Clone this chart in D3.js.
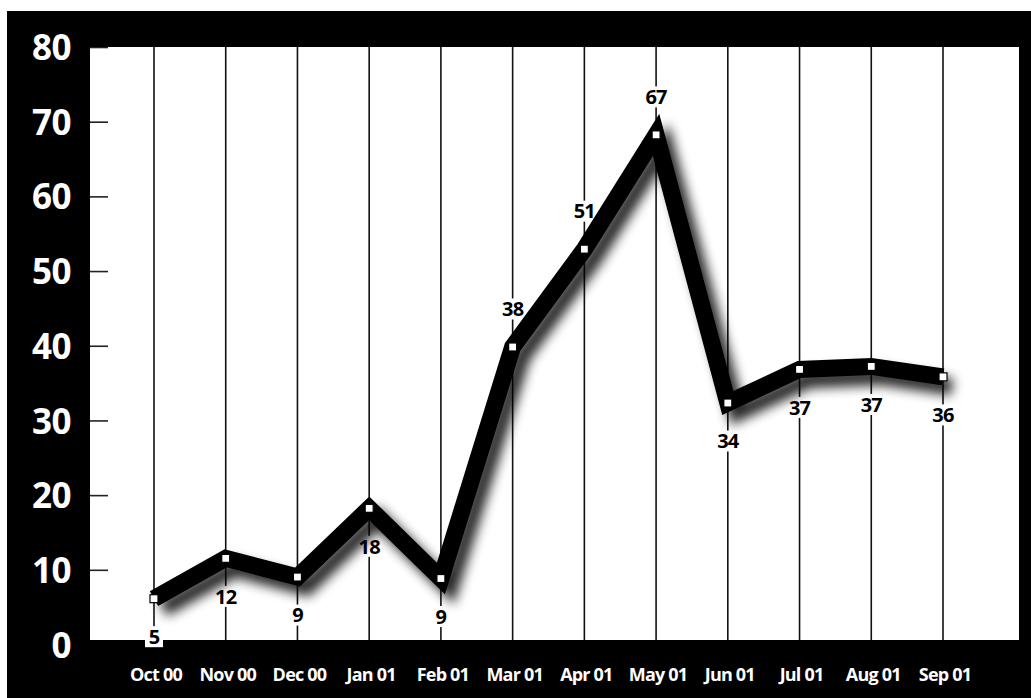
<!DOCTYPE html>
<html>
<head>
<meta charset="utf-8">
<script src="https://cdn.jsdelivr.net/npm/d3@7"></script>
<style>
  html, body { margin: 0; padding: 0; background: #fff; }
  svg { display: block; }
  text { font-family: "Open Sans", "DejaVu Sans", sans-serif; font-weight: 700; }
</style>
</head>
<body>
<svg id="chart" width="1031" height="698"></svg>
<script>
// ---- data ----
const categories = ["Oct 00","Nov 00","Dec 00","Jan 01","Feb 01","Mar 01","Apr 01","May 01","Jun 01","Jul 01","Aug 01","Sep 01"];
const values = [6.2, 11.6, 9.1, 18.3, 8.9, 39.9, 53.0, 68.3, 32.4, 36.9, 37.3, 35.9];
const labels = [5, 12, 9, 18, 9, 38, 51, 67, 34, 37, 37, 36];
const labelSide = ["below","below","below","below","below","above","above","above","below","below","below","below"];
const yTicks = [0, 10, 20, 30, 40, 50, 60, 70, 80];

// ---- layout ----
const svg = d3.select("#chart");
const frame = {x: 7, y: 11, w: 1024, h: 687};
const plot = {left: 90, right: 1019, top: 47, bottom: 640};

const x = d3.scalePoint().domain(categories).range([154, 943]);
const y = d3.scaleLinear().domain([0, 80]).range([645, 47.5]);

// shadow filter
const defs = svg.append("defs");
const f = defs.append("filter").attr("id", "shadow")
  .attr("filterUnits", "userSpaceOnUse")
  .attr("x", 0).attr("y", 0).attr("width", 1031).attr("height", 698);
f.append("feGaussianBlur").attr("in", "SourceAlpha").attr("stdDeviation", 6).attr("result", "b");
f.append("feOffset").attr("in", "b").attr("dx", 9).attr("dy", 10).attr("result", "o");
f.append("feComponentTransfer").attr("in", "o").attr("result", "s")
  .append("feFuncA").attr("type", "linear").attr("slope", 0.85);
const m = f.append("feMerge");
m.append("feMergeNode").attr("in", "s");
m.append("feMergeNode").attr("in", "SourceGraphic");

// black frame
svg.append("rect").attr("x", frame.x).attr("y", frame.y).attr("width", frame.w).attr("height", frame.h).attr("fill", "#000");
// white plot area
svg.append("rect").attr("x", plot.left).attr("y", plot.top)
  .attr("width", plot.right - plot.left).attr("height", plot.bottom - plot.top).attr("fill", "#fff");

// clip for plot content
defs.append("clipPath").attr("id", "plotclip").append("rect")
  .attr("x", plot.left).attr("y", plot.top).attr("width", plot.right - plot.left).attr("height", plot.bottom - plot.top);

const inner = svg.append("g").attr("clip-path", "url(#plotclip)");

// vertical gridlines
inner.selectAll("line.grid").data(categories).join("line")
  .attr("class", "grid")
  .attr("x1", d => x(d)).attr("x2", d => x(d))
  .attr("y1", plot.top).attr("y2", plot.bottom)
  .attr("stroke", "#111").attr("stroke-width", 1.6);

// y tick marks
inner.selectAll("line.ytick").data(yTicks).join("line")
  .attr("class", "ytick")
  .attr("x1", plot.left).attr("x2", plot.left + 18)
  .attr("y1", d => y(d)).attr("y2", d => y(d))
  .attr("stroke", "#222").attr("stroke-width", 1.6);

// y labels
svg.selectAll("text.ylab").data(yTicks).join("text")
  .attr("class", "ylab")
  .attr("x", 71).attr("y", d => y(d)).attr("dy", "0.36em")
  .attr("text-anchor", "end").attr("fill", "#fff")
  .attr("font-size", 35).attr("letter-spacing", -0.5)
  .text(d => d);

// x labels
svg.selectAll("text.xlab").data(categories).join("text")
  .attr("class", "xlab")
  .attr("x", d => x(d) + 2).attr("y", 675).attr("dy", "0.36em")
  .attr("text-anchor", "middle").attr("fill", "#fff")
  .attr("font-size", 18).attr("letter-spacing", -0.8)
  .text(d => d);

// data labels with white background (under the line)
const lg = svg.selectAll("g.dl").data(labels).join("g").attr("class", "dl")
  .attr("transform", (d, i) => {
    const off = labelSide[i] === "above" ? -38 : 38;
    return `translate(${x(categories[i])},${y(values[i]) + off})`;
  });
lg.append("rect")
  .attr("x", d => -(String(d).length * 12 + 6) / 2)
  .attr("y", -10.5)
  .attr("width", d => String(d).length * 12 + 6)
  .attr("height", 21)
  .attr("fill", "#fff");
lg.append("text")
  .attr("text-anchor", "middle").attr("dy", "0.36em")
  .attr("font-size", 20).attr("letter-spacing", -0.8)
  .attr("fill", "#000")
  .text(d => d);

// line
const pts = categories.map((c, i) => [x(c), y(values[i])]);
svg.append("g").attr("clip-path", "url(#plotclip)").append("path")
  .attr("d", d3.line()(pts))
  .attr("fill", "none").attr("stroke", "#000").attr("stroke-width", 17)
  .attr("stroke-linejoin", "miter").attr("stroke-miterlimit", 10)
  .attr("stroke-linecap", "butt")
  .attr("filter", "url(#shadow)");

// markers
svg.selectAll("rect.mk").data(values).join("rect")
  .attr("class", "mk")
  .attr("x", (d, i) => x(categories[i]) - 4).attr("y", d => y(d) - 4)
  .attr("width", 8).attr("height", 8)
  .attr("fill", "#fff").attr("stroke", "#000").attr("stroke-width", 1.2);
</script>
</body>
</html>
